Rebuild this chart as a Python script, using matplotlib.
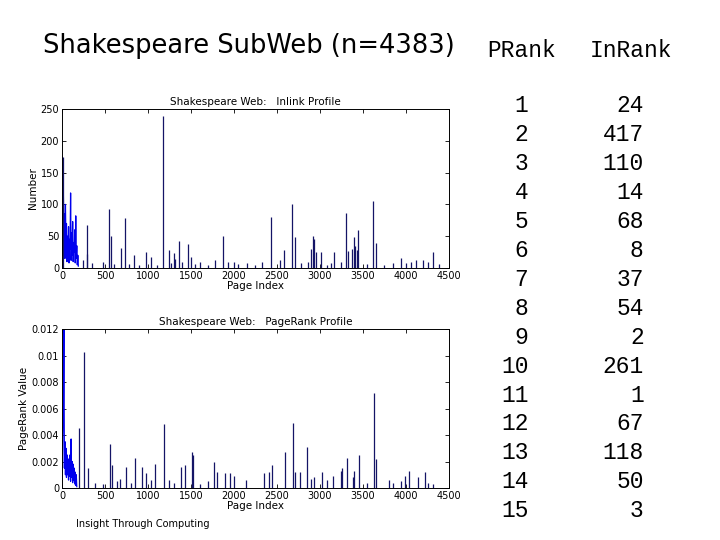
import matplotlib
matplotlib.use("Agg")
import matplotlib.pyplot as plt
import numpy as np

# ---- data ----
title = "Shakespeare SubWeb (n=4383)"
prank = [1, 2, 3, 4, 5, 6, 7, 8, 9, 10, 11, 12, 13, 14, 15]
inrank = [24, 417, 110, 14, 68, 8, 37, 54, 2, 261, 1, 67, 118, 50, 3]

# inlink profile: dense start (index step 6, from index 4) and separate spikes
inlink_head = [175, 20, 115, 60, 85, 15, 100, 40, 70, 10, 50, 25, 65, 8, 45, 30,
               118, 12, 55, 20, 73, 10, 40, 25, 60, 8, 82, 15, 35, 5, 20, 3]
inlink_idx = [8, 240, 287, 295, 350, 480, 547, 570, 600, 686, 733, 780, 837, 900, 977, 1035,
              1100, 1175, 1240, 1270, 1302, 1310, 1360, 1400, 1465, 1504, 1550, 1600,
              1700, 1775, 1872, 1930, 1995, 2050, 2150, 2250, 2330, 2428, 2540, 2582,
              2672, 2707, 2780, 2860, 2900, 2920, 2935, 2950, 3010, 3080, 3130, 3164,
              3250, 3300, 3330, 3375, 3393, 3410, 3425, 3443, 3550, 3617, 3648, 3750,
              3850, 3939, 4000, 4060, 4122, 4200, 4260, 4316, 4380]
inlink_val = [175, 13, 22, 67, 8, 10, 92, 51, 6, 32, 78, 6, 20, 5, 25, 18,
              4, 239, 29, 8, 23, 14, 43, 9, 37, 18, 7, 10,
              5, 13, 50, 9, 10, 6, 8, 5, 10, 80, 12, 29,
              100, 49, 8, 10, 30, 51, 46, 25, 25, 5, 8, 25,
              10, 86, 26, 30, 48, 35, 28, 59, 6, 106, 40, 5,
              8, 15, 8, 10, 13, 12, 10, 25, 6]

# pagerank profile
pr_head = [0.0012, 0.004, 0.006, 0.012, 0.0015, 0.0035, 0.001, 0.003, 0.0008, 0.0025,
           0.001, 0.0022, 0.0006, 0.002, 0.0009, 0.0025, 0.0005, 0.0037, 0.0008, 0.002,
           0.0004, 0.0018, 0.0006, 0.0015, 0.0003, 0.0012, 0.0002, 0.001, 0.0001]
pr_idx = [195, 254, 300, 380, 480, 559, 586, 645, 680, 742, 800, 848, 930, 977, 1030,
          1082, 1187, 1250, 1300, 1379, 1426, 1512, 1523, 1600, 1700, 1770, 1797, 1894,
          1953, 1996, 2143, 2345, 2410, 2437, 2590, 2682, 2713, 2763, 2849, 2900, 2926,
          3024, 3080, 3152, 3245, 3260, 3310, 3380, 3400, 3450, 3550, 3624, 3655, 3798,
          3850, 3942, 3984, 4030, 4135, 4216, 4260, 4310]
pr_val = [0.0045, 0.0103, 0.0015, 0.0004, 0.0003, 0.0033, 0.0017, 0.0005, 0.0007, 0.0016,
          0.0004, 0.0023, 0.0016, 0.0011, 0.0006,
          0.0018, 0.0048, 0.0006, 0.0004, 0.0016, 0.0017, 0.0027, 0.0025, 0.0003, 0.0005,
          0.002, 0.0012, 0.0011,
          0.0011, 0.0009, 0.0006, 0.0011, 0.0012, 0.0017, 0.0027, 0.0049, 0.0012, 0.0012,
          0.0031, 0.0007, 0.0008,
          0.0012, 0.0006, 0.0009, 0.0013, 0.0015, 0.0023, 0.0008, 0.0013, 0.0025, 0.0004,
          0.0072, 0.0022, 0.0006,
          0.0004, 0.0005, 0.0009, 0.0013, 0.0008, 0.0012, 0.0004, 0.0003]

navy = "#141466"
blue = "#0000ee"

fig = plt.figure(figsize=(7.2, 5.4), dpi=100)

def style_axes(ax, xlabel, ylabel, sub_title):
    ax.set_xlim(0, 4500)
    ax.set_xticks(range(0, 4501, 500))
    ax.tick_params(direction="in", top=True, right=True, labelsize=7, length=3,
                   width=0.6, pad=2)
    for s in ax.spines.values():
        s.set_linewidth(0.7)
    ax.set_xlabel(xlabel, fontsize=7.5, labelpad=0)
    ax.set_ylabel(ylabel, fontsize=7.5, labelpad=2)
    ax.set_title(sub_title, fontsize=7.5, pad=3)

# top: inlink profile
ax1 = fig.add_axes([0.0861, 0.5037, 0.5375, 0.2944])
head_x = 4 + np.arange(len(inlink_head)) * 6
ax1.plot(head_x, inlink_head, color=blue, lw=0.9)
ax1.vlines(inlink_idx, 0, inlink_val, color=navy, lw=0.9)
ax1.set_ylim(0, 250)
ax1.set_yticks(range(0, 251, 50))
style_axes(ax1, "Page Index", "Number", "Shakespeare Web:   Inlink Profile")

# bottom: pagerank profile
ax2 = fig.add_axes([0.0861, 0.0963, 0.5375, 0.2944])
head_x2 = 4 + np.arange(len(pr_head)) * 6
ax2.plot(head_x2, pr_head, color=blue, lw=0.9)
ax2.vlines(pr_idx, 0, pr_val, color=navy, lw=0.9)
ax2.set_ylim(0, 0.012)
yt = [0, 0.002, 0.004, 0.006, 0.008, 0.01, 0.012]
ax2.set_yticks(yt)
ax2.set_yticklabels(["0", "0.002", "0.004", "0.006", "0.008", "0.01", "0.012"])
style_axes(ax2, "Page Index", "PageRank Value", "Shakespeare Web:   PageRank Profile")

# slide texts
fig.text(0.346, 0.915, title, fontsize=18.5, ha="center", va="center")
fig.text(0.198, 0.030, "Insight Through Computing", fontsize=7, ha="center", va="center")

mono = "Liberation Mono"
fs = 16.5
fig.text(0.725, 0.907, "PRank", family=mono, fontsize=fs, ha="center", va="center")
fig.text(0.877, 0.907, "InRank", family=mono, fontsize=fs, ha="center", va="center")
for i, (p, r) in enumerate(zip(prank, inrank)):
    y = 1 - (106 + i * 28.9) / 540
    fig.text(0.734, y, str(p), family=mono, fontsize=fs, ha="right", va="center")
    fig.text(0.894, y, str(r), family=mono, fontsize=fs, ha="right", va="center")

fig.savefig("out.png", dpi=100)
